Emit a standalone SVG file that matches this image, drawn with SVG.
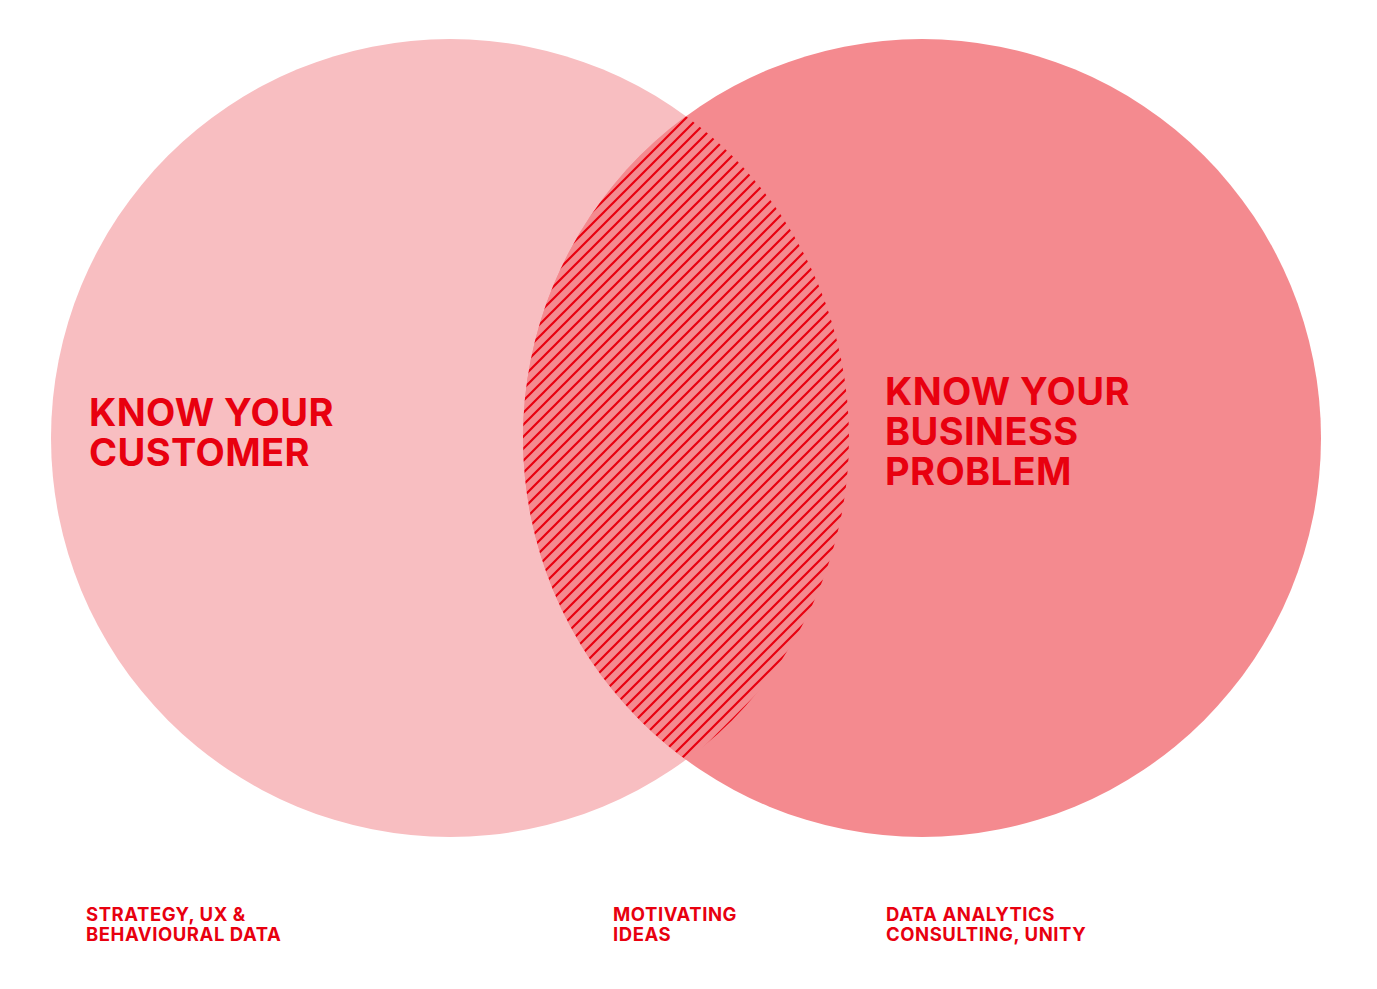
<svg xmlns="http://www.w3.org/2000/svg" width="1377" height="989" viewBox="0 0 1377 989">
<style>
.big{font-family:Inter,"Liberation Sans",sans-serif;font-weight:700;font-size:38px;letter-spacing:0.4px;fill:#E8000F}
.small{font-family:Inter,"Liberation Sans",sans-serif;font-weight:700;font-size:18.5px;letter-spacing:0.55px;fill:#E8000F}
</style>
<defs>
<pattern id="hatch" patternUnits="userSpaceOnUse" x="0" y="0" width="12" height="12">
<rect width="12" height="12" fill="#F48A8F"/>
<path d="M0,12 L12,0 M-2,2 L2,-2 M10,14 L14,10" stroke="#E8000F" stroke-width="2.2" fill="none"/>
</pattern>
<clipPath id="leftClip"><circle cx="450" cy="438" r="399"/></clipPath>
</defs>
<rect width="1377" height="989" fill="#ffffff"/>
<g id="left-circle"><circle cx="450" cy="438" r="399" fill="#F8BEC1"/></g>
<g id="right-circle"><circle cx="922" cy="438" r="399" fill="#F48A8F"/></g>
<g id="intersection"><circle cx="922" cy="438" r="399" fill="url(#hatch)" clip-path="url(#leftClip)"/></g>
<g id="left-label"><text class="big" x="89" y="426">KNOW YOUR</text><text class="big" x="89" y="466">CUSTOMER</text></g>
<g id="right-label"><text class="big" x="885" y="405">KNOW YOUR</text><text class="big" x="885" y="445">BUSINESS</text><text class="big" x="885" y="485">PROBLEM</text></g>
<g id="caption-left"><text class="small" x="86" y="920.5">STRATEGY, UX &amp;</text><text class="small" x="86" y="941">BEHAVIOURAL DATA</text></g>
<g id="caption-middle"><text class="small" x="613" y="920.5">MOTIVATING</text><text class="small" x="613" y="941">IDEAS</text></g>
<g id="caption-right"><text class="small" x="886" y="920.5">DATA ANALYTICS</text><text class="small" x="886" y="941">CONSULTING, UNITY</text></g>
<g id="connectors"></g>
</svg>
